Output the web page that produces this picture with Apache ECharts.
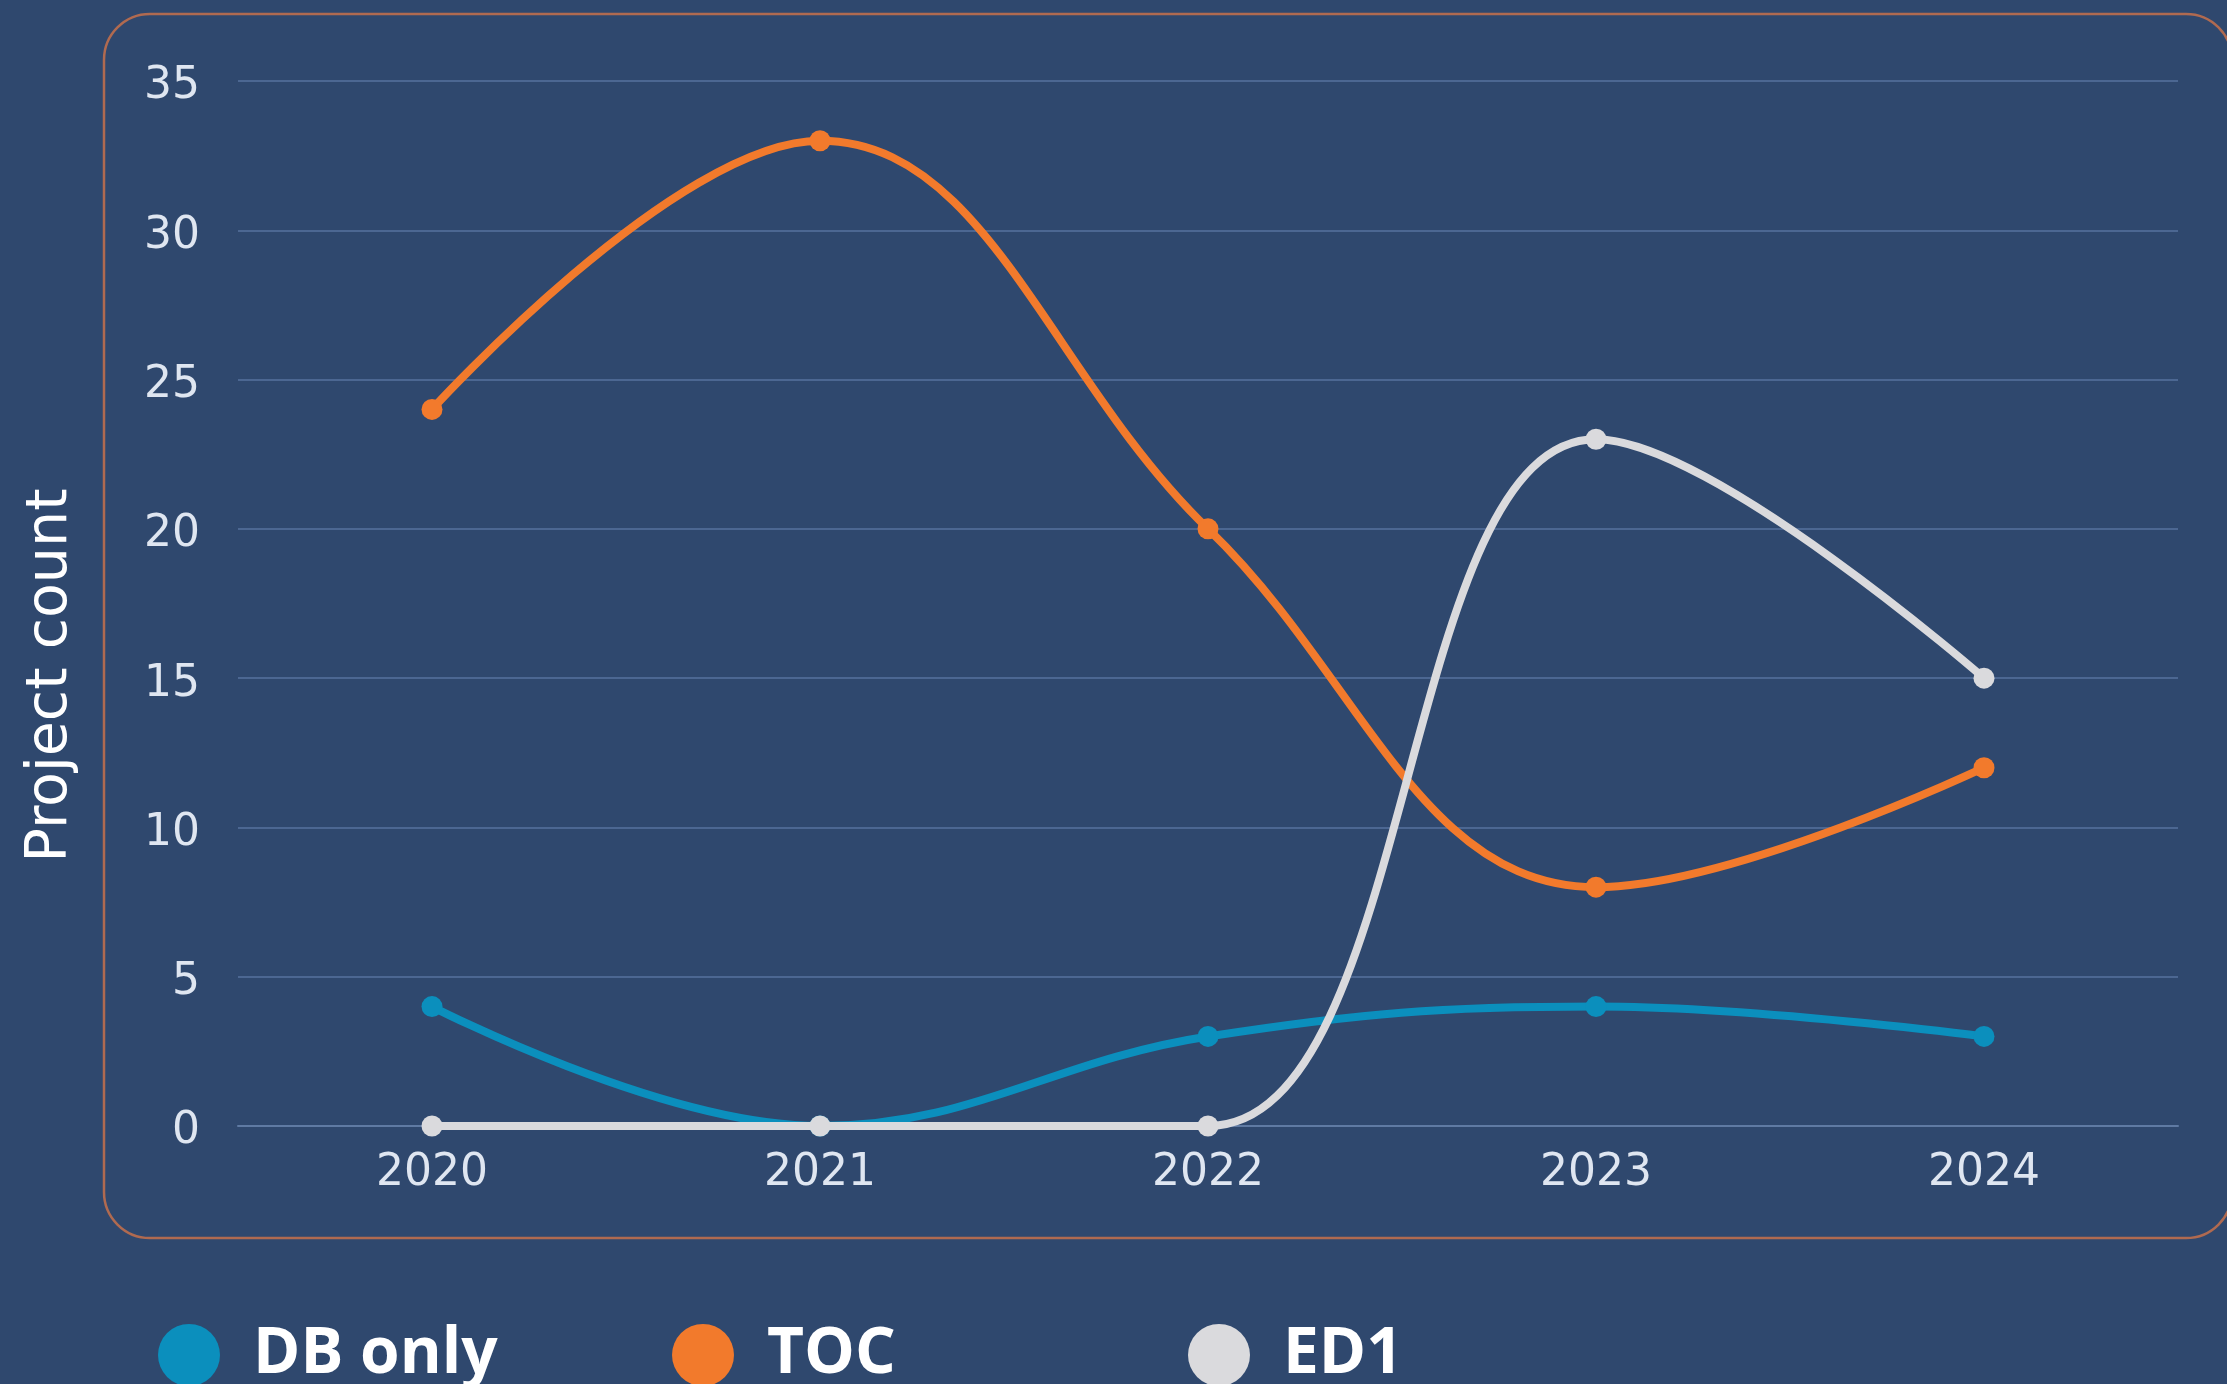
<!DOCTYPE html>
<html>
<head>
<meta charset="utf-8">
<script src="https://cdn.jsdelivr.net/npm/echarts@6/dist/echarts.min.js"></script>
<style>
html,body{margin:0;padding:0;background:#2f486e;}
#chart{width:2227px;height:1384px;}
</style>
</head>
<body>
<div id="chart"></div>
<script>
const years = ['2020', '2021', '2022', '2023', '2024'];
const dbOnly = [4, 0, 3, 4, 3];
const toc = [24, 33, 20, 8, 12];
const ed1 = [0, 0, 0, 23, 15];
const seriesNames = ['DB only', 'TOC', 'ED1'];
const seriesColors = ['#0b8fbd', '#f27a2c', '#dadadd'];
const seriesData = [dbOnly, toc, ed1];

const chart = echarts.init(document.getElementById('chart'));
const axisFont = 'DejaVu Sans';
const legendLefts = [153, 667, 1183];

const option = {
  backgroundColor: '#2f486e',
  animation: false,
  graphic: [{
    type: 'rect',
    shape: { x: 104, y: 14, width: 2128, height: 1224, r: 46 },
    style: { fill: 'none', stroke: '#b06a50', lineWidth: 2.5 },
    z: -1
  }],
  grid: { left: 238, right: 49, top: 81, bottom: 258 },
  legend: seriesNames.map((n, i) => ({
    data: [n],
    left: legendLefts[i],
    top: 1318,
    icon: 'circle',
    itemWidth: 62,
    itemHeight: 62,
    itemGap: 0,
    textStyle: {
      color: '#ffffff',
      fontFamily: 'Open Sans',
      fontWeight: 'bold',
      fontSize: 64,
      lineHeight: 62,
      padding: [0, 0, 0, 28]
    }
  })),
  xAxis: {
    type: 'category',
    data: years,
    boundaryGap: true,
    axisLine: { show: true, lineStyle: { color: '#5f7aa3', width: 2 } },
    axisTick: { show: false },
    axisLabel: { color: '#dfe6f1', fontFamily: axisFont, fontSize: 44, margin: 26 }
  },
  yAxis: {
    type: 'value',
    min: 0, max: 35, interval: 5,
    name: 'Project count',
    nameLocation: 'middle',
    nameGap: 158,
    nameTextStyle: { color: '#ffffff', fontFamily: axisFont, fontSize: 57, padding: [0, 144, 0, 0] },
    axisLine: { show: false },
    axisTick: { show: false },
    splitLine: { lineStyle: { color: '#4c6792', width: 2 } },
    axisLabel: {
      margin: 38,
      formatter: '{v|{value}}',
      rich: {
        v: { color: '#dfe6f1', fontFamily: axisFont, fontSize: 44, padding: [12, 0, 0, 0] }
      }
    }
  },
  series: seriesNames.map((n, i) => ({
    name: n,
    type: 'line',
    data: seriesData[i],
    smooth: 0.4,
    symbol: 'circle',
    symbolSize: 21,
    lineStyle: { color: seriesColors[i], width: 8 },
    itemStyle: { color: seriesColors[i] },
    z: 2 + i
  }))
};
chart.setOption(option);
</script>
</body>
</html>
